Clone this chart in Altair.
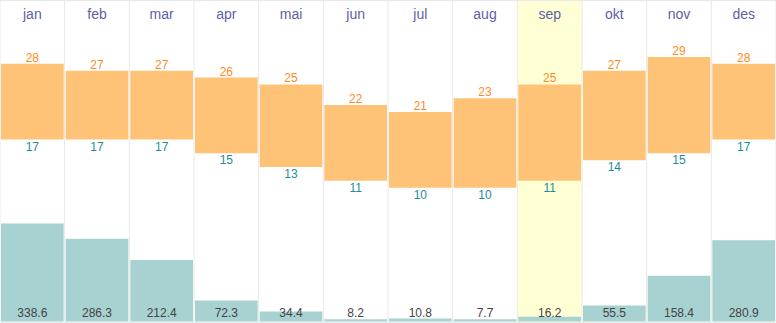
import altair as alt
import pandas as pd

months = ["jan", "feb", "mar", "apr", "mai", "jun", "jul", "aug", "sep", "okt", "nov", "des"]
high = [28, 27, 27, 26, 25, 22, 21, 23, 25, 27, 29, 28]
low = [17, 17, 17, 15, 13, 11, 10, 10, 11, 14, 15, 17]
precip = [338.6, 286.3, 212.4, 72.3, 34.4, 8.2, 10.8, 7.7, 16.2, 55.5, 158.4, 280.9]
highlight_month = "sep"

df = pd.DataFrame({
    "month": months,
    "i": list(range(12)),
    "i2": list(range(1, 13)),
    "high": high,
    "low": low,
    "precip": precip,
})
df["precip_label"] = [f"{v:.1f}" for v in precip]
seps = pd.DataFrame({"b": list(range(13))})

W, H = 776, 323
xs = alt.Scale(domain=[0, 12], range=[0, W], nice=False, zero=False)
ts = alt.Scale(domain=[-9.67, 37.28], range=[H, 0], nice=False, zero=False)
ps = alt.Scale(domain=[0, 1111.7], range=[321.5, 0], nice=False, zero=False)
FONT = "Arial, Liberation Sans, sans-serif"

base = alt.Chart(df)

hl = base.transform_filter(alt.datum.month == highlight_month).mark_rect(
    color="#ffffd6"
).encode(
    x=alt.X("i:Q", scale=xs, axis=None),
    x2="i2:Q",
    y=alt.value(0),
    y2=alt.value(322),
)

sep_rules = alt.Chart(seps).mark_rule(color="#e8e8e8", strokeWidth=1).encode(
    x=alt.X("b:Q", scale=xs, axis=None),
    y=alt.value(0),
    y2=alt.value(323),
)
top_rule = alt.Chart(seps).mark_rule(color="#e8e8e8").encode(
    x=alt.value(0), x2=alt.value(W), y=alt.value(0.5)
)
bot_rule = alt.Chart(seps).mark_rule(color="#e8e8e8").encode(
    x=alt.value(0), x2=alt.value(W), y=alt.value(322.5)
)

temp_bars = base.mark_bar(color="#fec377", xOffset=1, x2Offset=-1).encode(
    x=alt.X("i:Q", scale=xs, axis=None),
    x2="i2:Q",
    y=alt.Y("high:Q", scale=ts, axis=None),
    y2="low:Q",
)

xc = alt.X("mid:Q", scale=xs, axis=None)
based = base.transform_calculate(mid="datum.i + 0.5")

high_text = based.mark_text(
    color="#ff8a1c", fontSize=12, font=FONT, baseline="alphabetic", dy=-2
).encode(x=xc, y=alt.Y("high:Q", scale=ts, axis=None), text="high:Q")

low_text = based.mark_text(
    color="#1e8c9c", fontSize=12, font=FONT, baseline="alphabetic", dy=11
).encode(x=xc, y=alt.Y("low:Q", scale=ts, axis=None), text="low:Q")

precip_bars = base.mark_bar(color="#a8d1d1", xOffset=1, x2Offset=-1).encode(
    x=alt.X("i:Q", scale=xs, axis=None),
    x2="i2:Q",
    y=alt.Y("precip:Q", scale=ps, axis=None),
    y2=alt.datum(0),
)

precip_text = based.mark_text(
    color="#444444", fontSize=12, font=FONT, baseline="alphabetic"
).encode(x=xc, y=alt.value(317), text="precip_label:N")

month_text = based.mark_text(
    color="#5c5fa8", fontSize=14, font=FONT, baseline="alphabetic"
).encode(x=xc, y=alt.value(19), text="month:N")

chart = alt.layer(
    hl, sep_rules, top_rule, bot_rule, temp_bars, high_text, low_text,
    precip_bars, precip_text, month_text
).resolve_scale(y="independent").properties(
    width=W, height=H, autosize=alt.AutoSizeParams(type="none"), padding=0,
    background="white"
).configure_view(strokeWidth=0)

chart.save("out.html", embed_options={"renderer": "svg", "actions": False})
